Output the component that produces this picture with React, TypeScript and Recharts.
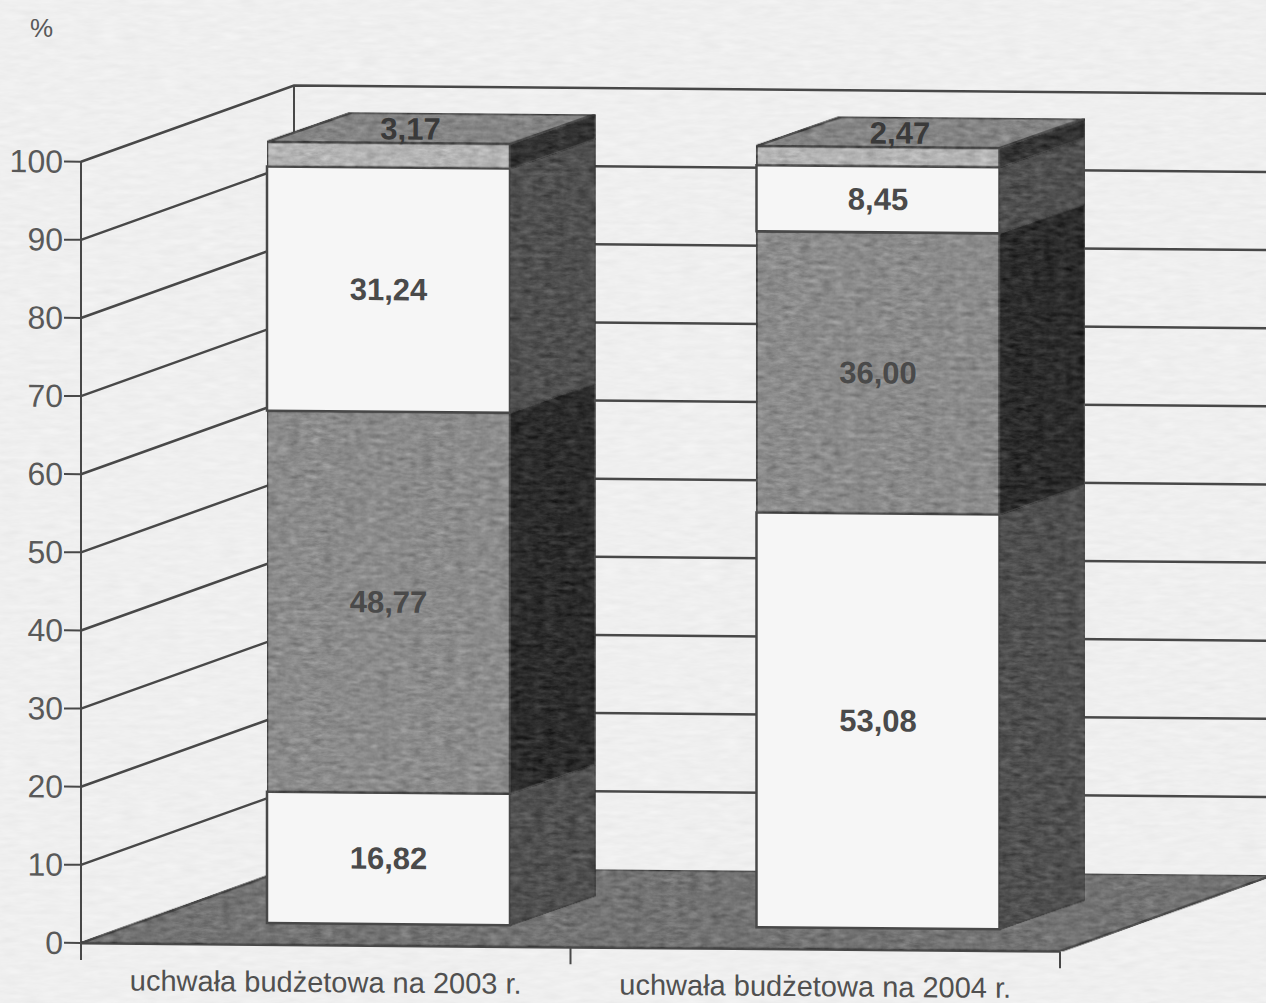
import { BarChart, Bar, XAxis, YAxis, LabelList } from "recharts";

// values, bottom segment first
const categories = ["uchwała budżetowa na 2003 r.", "uchwała budżetowa na 2004 r."];
const segmentA = [16.82, 53.08];
const segmentB = [48.77, 36.0];
const segmentC = [31.24, 8.45];
const segmentD = [3.17, 2.47];
const yTicks = [0, 10, 20, 30, 40, 50, 60, 70, 80, 90, 100];

const data = categories.map((name, i) => ({
  name,
  a: segmentA[i],
  b: segmentB[i],
  c: segmentC[i],
  d: segmentD[i],
}));

const WIDTH = 1266;
const HEIGHT = 1003;
const LEFT = 81;
const RIGHT = 206;
const TOP = 161.7;
const BOTTOM = 60;
const BAND = (WIDTH - LEFT - RIGHT) / categories.length;

// 3d offsets: wall/floor depth, bar plane shift, bar depth
const WALL_DX = 213;
const WALL_DY = -78;
const BAR_SHIFT_X = 63;
const BAR_SHIFT_Y = -21.5;
const BAR_DX = 85;
const BAR_DY = -30;

const LINE = "#484848";
const FONT = "'Liberation Sans', Arial, sans-serif";
const NOISE_GREY = "0.33 0.33 0.33 0 0 0.33 0.33 0.33 0 0 0.33 0.33 0.33 0 0 0 0 0 0 1";

const fmt = (v: number) => v.toFixed(2).replace(".", ",");

const Block = (props: any) => {
  const { x, y, width, height, front, side, isTop, grainy } = props;
  const left = x + BAR_SHIFT_X;
  const right = left + width;
  const top = y + BAR_SHIFT_Y;
  const bottom = top + height;
  return (
    <g>
      <rect
        x={left}
        y={top}
        width={width}
        height={height}
        fill={front}
        stroke={LINE}
        strokeWidth={2.5}
        filter={grainy ? "url(#grain)" : undefined}
      />
      <polygon
        points={`${right},${top} ${right + BAR_DX},${top + BAR_DY} ${right + BAR_DX},${bottom + BAR_DY} ${right},${bottom}`}
        fill={side}
        stroke={LINE}
        strokeWidth={1.5}
        filter="url(#grain)"
      />
      {isTop && (
        <polygon
          points={`${left},${top} ${left + BAR_DX},${top + BAR_DY} ${right + BAR_DX},${top + BAR_DY} ${right},${top}`}
          fill="#858585"
          stroke={LINE}
          strokeWidth={2.5}
          filter="url(#grain)"
        />
      )}
    </g>
  );
};

const frontLabel = (p: any) => (
  <text
    x={p.x + BAR_SHIFT_X + p.width / 2}
    y={p.y + BAR_SHIFT_Y + p.height / 2}
    textAnchor="middle"
    dominantBaseline="central"
    fontFamily={FONT}
    fontWeight="bold"
    fontSize={31}
    fill="#4a4a4a"
  >
    {fmt(p.value)}
  </text>
);

const topLabel = (p: any) => (
  <text
    x={p.x + BAR_SHIFT_X + p.width / 2 + 22}
    y={p.y + BAR_SHIFT_Y - 14}
    textAnchor="middle"
    dominantBaseline="central"
    fontFamily={FONT}
    fontWeight="bold"
    fontSize={31}
    fill="#3a3a3a"
  >
    {fmt(p.value)}
  </text>
);

// value tick + the wall line that runs back from it; the 0 tick also lays the floor
const WallTick = (props: any) => {
  const { x, y, payload } = props;
  const backX = LEFT + WALL_DX;
  const backY = y + WALL_DY;
  const isZero = payload.value === 0;
  const isMax = payload.value === 100;
  return (
    <g>
      {isZero && (
        <polygon
          points={`${LEFT},${y} ${LEFT + BAND * 2},${y} ${LEFT + BAND * 2 + WALL_DX},${backY} ${backX},${backY}`}
          fill="#737373"
          stroke={LINE}
          strokeWidth={2.5}
          filter="url(#grain)"
        />
      )}
      {!isZero && (
        <polyline
          points={`${LEFT},${y} ${backX},${backY} ${WIDTH + 20},${backY}`}
          fill="none"
          stroke={LINE}
          strokeWidth={2.5}
        />
      )}
      {isMax && (
        <line x1={backX} y1={backY} x2={backX} y2={backY + 781} stroke={LINE} strokeWidth={2} />
      )}
      <text
        x={x}
        y={y}
        textAnchor="end"
        dominantBaseline="central"
        fontFamily={FONT}
        fontSize={32}
        fill="#595959"
      >
        {payload.value}
      </text>
    </g>
  );
};

// category label, with tick marks on the band edges
const BandTick = (props: any) => {
  const { x, payload, index } = props;
  const axisY = HEIGHT - BOTTOM;
  const mark = (mx: number) => (
    <line x1={mx} y1={axisY} x2={mx} y2={axisY + 17} stroke={LINE} strokeWidth={2} />
  );
  return (
    <g>
      {mark(x - BAND / 2)}
      {index === categories.length - 1 && mark(x + BAND / 2)}
      <text
        x={x}
        y={axisY + 37}
        textAnchor="middle"
        dominantBaseline="central"
        fontFamily={FONT}
        fontSize={29}
        fill="#505050"
      >
        {payload.value}
      </text>
    </g>
  );
};

const layer: any = { position: "absolute", left: 0, top: 0 };

export default function App() {
  return (
    <div style={{ ...layer, width: WIDTH, height: HEIGHT, overflow: "hidden", background: "#efefef" }}>
      <svg width={WIDTH} height={HEIGHT} style={layer}>
        <defs>
          <filter id="paper" x="0" y="0" width="100%" height="100%" colorInterpolationFilters="sRGB">
            <feTurbulence type="fractalNoise" baseFrequency="0.05 0.2" numOctaves="3" seed="7" result="n" />
            <feColorMatrix in="n" type="matrix" values={NOISE_GREY} result="g" />
            <feComposite in="SourceGraphic" in2="g" operator="arithmetic" k1="0" k2="1" k3="0.08" k4="-0.04" />
          </filter>
          <filter id="grain" x="0" y="0" width="100%" height="100%" colorInterpolationFilters="sRGB">
            <feTurbulence type="fractalNoise" baseFrequency="0.09 0.22" numOctaves="4" seed="3" result="n" />
            <feColorMatrix in="n" type="matrix" values={NOISE_GREY} result="g" />
            <feComposite in="SourceGraphic" in2="g" operator="arithmetic" k1="0" k2="1" k3="0.4" k4="-0.2" result="c" />
            <feComposite in="c" in2="SourceAlpha" operator="in" />
          </filter>
        </defs>
        <rect width={WIDTH} height={HEIGHT} fill="#efefef" filter="url(#paper)" />
      </svg>
      <div style={{ ...layer, left: 30, top: 13, fontFamily: FONT, fontSize: 26, color: "#595959" }}>%</div>
      <div style={{ ...layer, transform: "skewY(0.487deg)", transformOrigin: `${LEFT}px 0` }}>
        {/* walls, floor and axes sit in their own chart because recharts paints axes over bars */}
        <div style={layer}>
          <BarChart width={WIDTH} height={HEIGHT} data={data} margin={{ top: TOP, right: RIGHT, bottom: 0, left: 0 }}>
            <YAxis
              type="number"
              domain={[0, 100]}
              ticks={yTicks}
              interval={0}
              width={LEFT}
              tickSize={17}
              tickMargin={1}
              tick={<WallTick />}
              axisLine={{ stroke: LINE, strokeWidth: 2 }}
              tickLine={{ stroke: LINE, strokeWidth: 2 }}
            />
            <XAxis
              dataKey="name"
              height={BOTTOM}
              interval={0}
              tick={<BandTick />}
              tickLine={false}
              axisLine={{ stroke: LINE, strokeWidth: 3 }}
            />
            <Bar dataKey="a" fill="none" isAnimationActive={false} />
          </BarChart>
        </div>
        <div style={layer}>
          <BarChart
            width={WIDTH}
            height={HEIGHT}
            data={data}
            barSize={243}
            margin={{ top: TOP, right: RIGHT, bottom: BOTTOM, left: LEFT }}
          >
            <YAxis hide type="number" domain={[0, 100]} />
            <XAxis hide dataKey="name" />
            <Bar
              dataKey="a"
              stackId="s"
              isAnimationActive={false}
              shape={(p: any) => <Block {...p} front="#f6f6f6" side="#505050" />}
            >
              <LabelList dataKey="a" content={frontLabel} />
            </Bar>
            <Bar
              dataKey="b"
              stackId="s"
              isAnimationActive={false}
              shape={(p: any) => <Block {...p} front="#8b8b8b" side="#2c2c2c" grainy />}
            >
              <LabelList dataKey="b" content={frontLabel} />
            </Bar>
            <Bar
              dataKey="c"
              stackId="s"
              isAnimationActive={false}
              shape={(p: any) => <Block {...p} front="#f6f6f6" side="#505050" />}
            >
              <LabelList dataKey="c" content={frontLabel} />
            </Bar>
            <Bar
              dataKey="d"
              stackId="s"
              isAnimationActive={false}
              shape={(p: any) => <Block {...p} front="#b4b4b4" side="#333333" isTop grainy />}
            >
              <LabelList dataKey="d" content={topLabel} />
            </Bar>
          </BarChart>
        </div>
      </div>
    </div>
  );
}
